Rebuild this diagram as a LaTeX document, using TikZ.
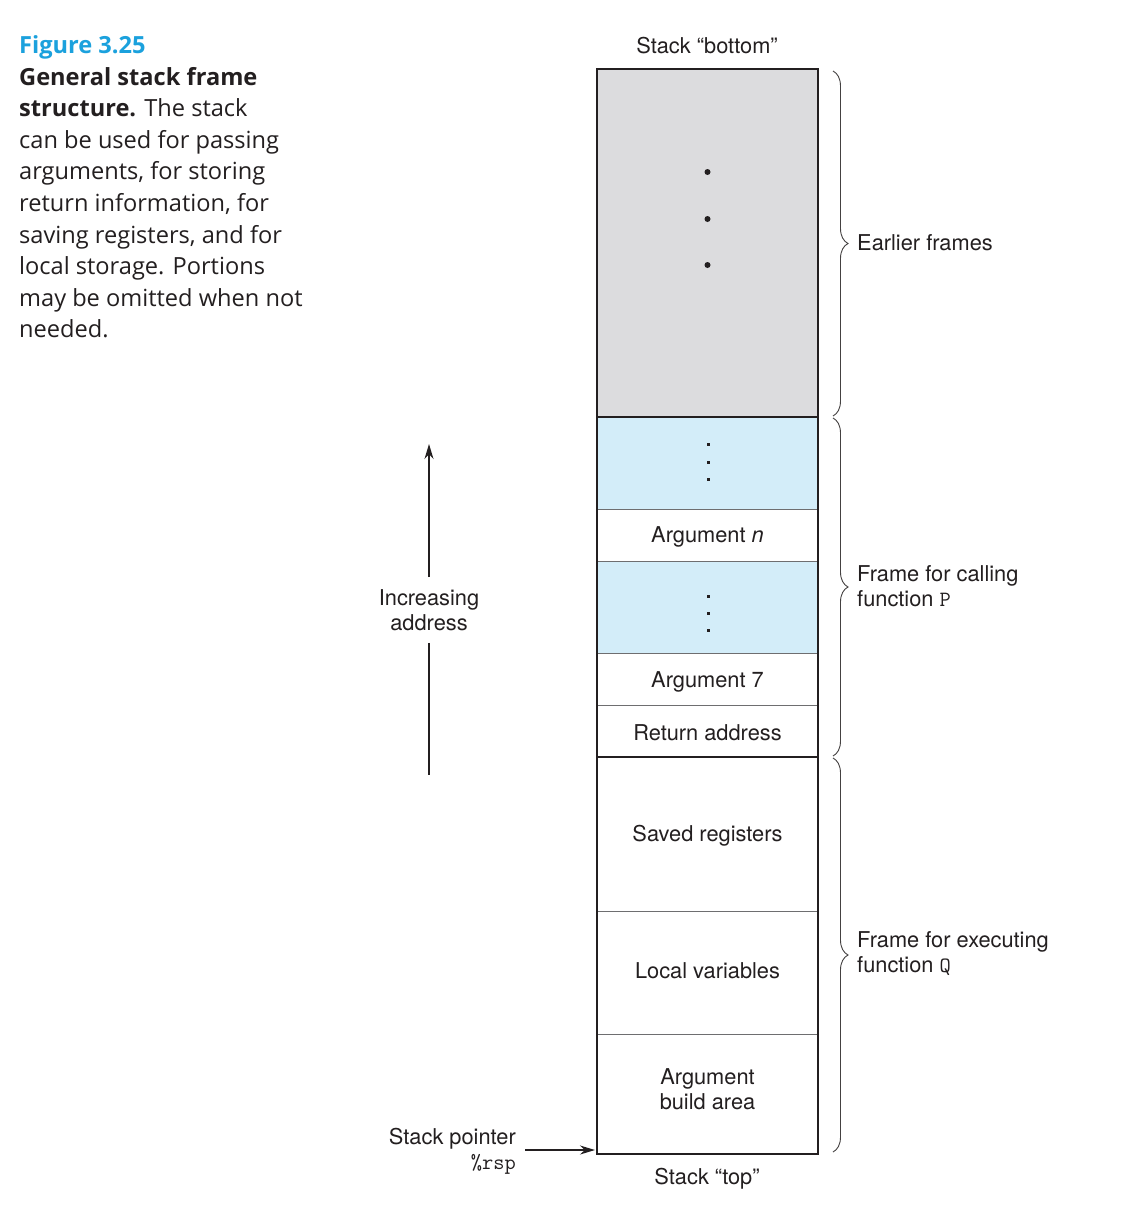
\documentclass[tikz,border=0pt]{standalone}
\usepackage{fontspec}
\usetikzlibrary{arrows.meta,decorations.pathreplacing,calc}
\newfontfamily\helv{TeX Gyre Heros}
\newfontfamily\capfont{Open Sans}
\definecolor{ink}{HTML}{231F20}
\definecolor{greyfill}{HTML}{DCDCDE}
\definecolor{bluefill}{HTML}{D3EDF9}
\definecolor{figcyan}{HTML}{1BA1DD}
\definecolor{cellline}{HTML}{6E6E70}
\newcommand{\lab}{\helv\fontsize{21.8}{25}\selectfont}
\newcommand{\capf}{\capfont\fontsize{23.6}{31.6}\selectfont}
\tikzset{
  cell/.style={draw=cellline, line width=0.9pt, minimum width=221pt, inner sep=0pt, outer sep=0pt, anchor=north west, font=\lab, text=ink, align=center},
  celltext/.style={font=\lab, text=ink, align=center, inner sep=0pt},
  capline/.style={anchor=base west, inner sep=0pt, font=\capf, text=ink},
  lbl/.style={font=\lab, text=ink, inner sep=0pt},
  brace/.style={draw=ink!85, line width=0.9pt, decorate, decoration={brace, amplitude=15pt, aspect=0.5}},
  arr/.style={draw=ink, line width=1.3pt, -{Stealth[length=15pt,width=9pt]}},
  dotg/.style={fill=ink}
}
\begin{document}
\begin{tikzpicture}[x=1pt,y=-1pt]
\useasboundingbox[fill=white] (0,0) rectangle (1128,1210);

% caption
\node[capline, text=figcyan, font=\capf\bfseries] (cap0) at (19,53) {Figure 3.25};
\node[capline] (cap1) at (19,85) {\bfseries General stack frame};
\node[capline] (cap2) at (19,116.6) {{\bfseries structure.} The stack};
\node[capline] (cap3) at (19,148.2) {can be used for passing};
\node[capline] (cap4) at (19,179.8) {arguments, for storing};
\node[capline] (cap5) at (19,211.4) {return information, for};
\node[capline] (cap6) at (19,243) {saving registers, and for};
\node[capline] (cap7) at (19,274.6) {local storage. Portions};
\node[capline] (cap8) at (19,306.2) {may be omitted when not};
\node[capline] (cap9) at (19,337.8) {needed.};

% stack cells
\node[cell, fill=greyfill, minimum height=348pt] (grey) at (597,69) {};
\node[cell, fill=bluefill, minimum height=92pt] (blueA) at (597,417) {};
\node[cell, fill=white, minimum height=52pt] (argn) at (597,509) {};
\node[cell, fill=bluefill, minimum height=92pt] (blueB) at (597,561) {};
\node[cell, fill=white, minimum height=52pt] (arg7) at (597,653) {};
\node[cell, fill=white, minimum height=52pt] (ret) at (597,705) {};
\node[cell, fill=white, minimum height=154pt] (saved) at (597,757) {};
\node[cell, fill=white, minimum height=123pt] (local) at (597,911) {};
\node[cell, fill=white, minimum height=120pt] (build) at (597,1034) {};

% cell texts
\node[celltext] (targn) at ([yshift=-2pt]argn.center) {Argument \textit{n}};
\node[celltext] (targ7) at ([yshift=-3pt]arg7.center) {Argument 7};
\node[celltext] (tret) at ([yshift=-2pt]ret.center) {Return address};
\node[celltext] (tsaved) at ([yshift=-2pt]saved.center) {Saved registers};
\node[celltext] (tlocal) at ([yshift=2pt]local.center) {Local variables};
\node[celltext] (tbuild) at ([yshift=5pt]build.center) {Argument\\build area};

% dots
\foreach \yy in {172,219,265} \fill[dotg] (707.5,\yy) circle (3pt);
\foreach \yy in {444,462,479,596,613,630} \fill[dotg] (707,\yy-1.5) rectangle (710,\yy+1.5);

% thick borders
\draw[ink, line width=2.6pt] (grey.north west) rectangle (build.south east);
\draw[ink, line width=2.6pt] (grey.south west) -- (grey.south east);
\draw[ink, line width=2.6pt] (ret.south west) -- (ret.south east);

% top / bottom labels
\node[lbl] (sbottom) at (707,46) {Stack “bottom”};
\node[lbl] (stop) at (707,1179) {Stack “top”};

% braces
\draw[brace] ([xshift=15pt,yshift=-2pt]grey.north east) -- ([xshift=15pt,yshift=1pt]grey.south east);
\draw[brace] ([xshift=15pt,yshift=-1pt]blueA.north east) -- ([xshift=15pt,yshift=1pt]ret.south east);
\draw[brace] ([xshift=15pt,yshift=-1pt]saved.north east) -- ([xshift=15pt,yshift=2pt]build.south east);

\node[lbl, anchor=west] (earlier) at (857,243) {Earlier frames};
\node[lbl, anchor=west, align=left] (frameP) at (857,586) {Frame for calling\\function {\ttfamily P}};
\node[lbl, anchor=west, align=left] (frameQ) at (857,954) {Frame for executing\\function {\ttfamily Q}};

% increasing address
\node[lbl, align=center, inner sep=0pt] (inc) at (429,610) {Increasing\\address};
\coordinate (inctop) at (429,444);
\coordinate (incbot) at (429,775);
\draw[arr] ([yshift=12pt]inc.north) -- (inctop);
\draw[ink, line width=1.3pt] ([yshift=-12pt]inc.south) -- (incbot);

% stack pointer
\node[lbl, align=right, anchor=east] (sp) at (516,1151) {Stack pointer\\{\ttfamily\%rsp}};
\coordinate (spend) at (595,1150);
\draw[arr] (525,1150) -- (spend);
\end{tikzpicture}
\end{document}
